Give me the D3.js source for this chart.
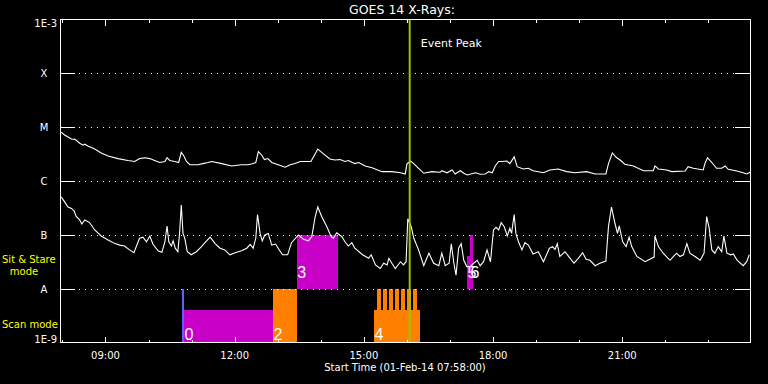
<!DOCTYPE html>
<html><head><meta charset="utf-8">
<script src="https://cdn.jsdelivr.net/npm/d3@7"></script>
<style>html,body{margin:0;padding:0;background:#000;}svg{display:block;}</style>
</head><body><svg id="c" width="768" height="384"></svg>
<script>
// ---------- data ----------
const titleText = "GOES 14 X-Rays:";
const xLabelText = "Start Time (01-Feb-14 07:58:00)";
const startHour = 7 + 58/60, endHour = 23 + 58/60;
const levelLabels = ["A","B","C","M","X"];
const levelValues = [1e-8,1e-7,1e-6,1e-5,1e-4];
const edgeLabels = ["1E-9","1E-3"];
const edgeValues = [1e-9,1e-3];
const timeTickLabels = ["09:00","12:00","15:00","18:00","21:00"];
const modeLabels = [["Sit & Stare","mode"],["Scan mode"]];
const peakHour = 16.064;
const peakLabel = "Event Peak";

// long channel (1-8 A), hours UT / W m^-2
const longT = [7.97,8.05,8.21,8.29,8.40,8.48,8.52,8.59,8.75,8.90,
 9.06,9.29,9.52,9.68,9.79,9.91,10.03,10.14,10.26,10.38,
 10.43,10.49,10.61,10.70,10.76,10.82,10.88,10.96,11.15,11.26,
 11.38,11.47,11.70,11.93,12.16,12.32,12.43,12.49,12.55,12.63,
 12.69,12.77,12.86,13.01,13.17,13.29,13.40,13.52,13.77,13.87,
 13.93,14.02,14.21,14.33,14.45,14.56,14.64,14.79,14.88,15.03,
 15.19,15.42,15.65,15.85,15.96,16.00,16.08,16.16,16.27,16.39,
 16.58,16.77,16.81,16.93,17.05,17.12,17.24,17.32,17.40,17.59,
 17.70,17.82,17.90,17.98,18.05,18.13,18.21,18.32,18.39,18.49,
 18.56,18.70,18.82,18.93,19.17,19.32,19.51,19.71,19.90,20.17,
 20.37,20.62,20.68,20.77,20.86,20.95,21.06,21.26,21.49,21.72,
 21.76,21.84,22.03,22.15,22.46,22.53,22.65,22.88,22.92,22.98,
 23.08,23.19,23.31,23.39,23.46,23.66,23.81,23.89,23.97];
const longF = [8.0e-6,7.1e-6,6.0e-6,5.9e-6,5.0e-6,4.6e-6,4.8e-6,4.45e-6,3.9e-6,3.3e-6,
 2.9e-6,2.6e-6,2.4e-6,2.3e-6,2.6e-6,2.7e-6,2.6e-6,2.4e-6,2.2e-6,2.3e-6,
 2.7e-6,2.4e-6,2.3e-6,2.2e-6,3.4e-6,2.9e-6,2.3e-6,2.0e-6,2.0e-6,2.1e-6,
 2.2e-6,2.3e-6,2.1e-6,1.9e-6,2.0e-6,2.0e-6,2.1e-6,2.2e-6,3.5e-6,3.0e-6,
 2.5e-6,2.6e-6,2.2e-6,2.0e-6,1.8e-6,2.0e-6,2.1e-6,2.3e-6,2.3e-6,3.2e-6,
 3.9e-6,3.4e-6,2.55e-6,2.45e-6,2.5e-6,2.3e-6,2.4e-6,2.1e-6,2.2e-6,1.9e-6,
 1.76e-6,1.49e-6,1.49e-6,1.42e-6,1.35e-6,2.06e-6,2.34e-6,2.1e-6,1.72e-6,1.39e-6,
 1.49e-6,1.45e-6,1.55e-6,1.42e-6,1.6e-6,1.35e-6,1.55e-6,1.39e-6,1.29e-6,1.42e-6,
 1.33e-6,1.35e-6,1.49e-6,1.42e-6,1.9e-6,2.3e-6,2.3e-6,2.34e-6,2.1e-6,2.8e-6,
 1.84e-6,1.67e-6,1.72e-6,1.55e-6,1.42e-6,1.6e-6,1.67e-6,1.49e-6,1.42e-6,1.49e-6,
 1.35e-6,1.35e-6,2.1e-6,3.3e-6,2.75e-6,2.45e-6,2.04e-6,1.9e-6,1.55e-6,1.55e-6,
 1.9e-6,1.67e-6,1.6e-6,1.49e-6,1.53e-6,1.84e-6,1.72e-6,1.6e-6,2.1e-6,2.7e-6,
 2.2e-6,1.72e-6,1.72e-6,1.9e-6,1.65e-6,1.53e-6,1.42e-6,1.35e-6,1.45e-6];

// short channel (0.5-4 A)
const shortT = [7.97,8.05,8.13,8.21,8.27,8.32,8.40,8.45,8.52,8.63,
 8.75,8.90,9.06,9.21,9.33,9.44,9.56,9.66,9.79,9.87,
 9.95,10.03,10.10,10.22,10.31,10.38,10.43,10.47,10.53,10.57,
 10.62,10.68,10.72,10.76,10.80,10.84,10.90,10.99,11.11,11.23,
 11.31,11.43,11.54,11.66,11.77,11.89,12.01,12.16,12.28,12.36,
 12.43,12.49,12.53,12.59,12.64,12.70,12.78,12.86,12.95,13.01,
 13.11,13.23,13.32,13.48,13.60,13.71,13.79,13.87,13.93,14.02,
 14.14,14.24,14.29,14.37,14.49,14.56,14.64,14.72,14.79,14.97,
 15.11,15.17,15.27,15.38,15.46,15.54,15.58,15.65,15.73,15.85,
 15.92,15.98,16.02,16.10,16.16,16.27,16.39,16.51,16.62,16.74,
 16.81,16.89,16.98,17.03,17.09,17.14,17.20,17.26,17.32,17.39,
 17.47,17.55,17.63,17.70,17.78,17.86,17.94,18.01,18.07,18.13,
 18.19,18.26,18.33,18.39,18.43,18.49,18.53,18.59,18.67,18.74,
 18.82,18.93,19.05,19.17,19.31,19.38,19.44,19.49,19.55,19.67,
 19.79,19.88,19.98,20.08,20.16,20.25,20.37,20.48,20.62,20.68,
 20.75,20.83,20.89,20.93,21.01,21.09,21.16,21.22,21.34,21.53,
 21.64,21.74,21.76,21.84,21.95,22.11,22.19,22.26,22.34,22.42,
 22.50,22.57,22.69,22.81,22.90,22.96,23.02,23.08,23.15,23.23,
 23.31,23.36,23.43,23.52,23.58,23.67,23.81,23.89,23.95];
const shortF = [5.1e-7,4.1e-7,3.3e-7,3.1e-7,2.8e-7,2.2e-7,1.9e-7,1.6e-7,1.9e-7,1.7e-7,
 1.24e-7,9.6e-8,8.1e-8,7.0e-8,6.5e-8,6.25e-8,5.3e-8,4.7e-8,8.7e-8,9.1e-8,
 7.5e-8,9.6e-8,6.8e-8,5.1e-8,4.8e-8,7.5e-8,1.47e-7,7.5e-8,6.25e-8,7.8e-8,
 5.7e-8,4.9e-8,1.07e-7,3.6e-7,1.07e-7,8.7e-8,4.9e-8,4.3e-8,4.9e-8,6.1e-8,
 7.2e-8,9.1e-8,7.0e-8,5.7e-8,5.3e-8,4.3e-8,4.7e-8,5.1e-8,5.7e-8,6.7e-8,
 5.7e-8,8.7e-8,2.4e-7,1.07e-7,7.8e-8,1.0e-7,1.07e-7,6.5e-8,6.8e-8,5.7e-8,
 4.3e-8,4.3e-8,7.2e-8,1.0e-7,8.3e-8,7.8e-8,9.3e-8,2.2e-7,3.3e-7,2.2e-7,
 1.42e-7,9.3e-8,8.7e-8,1.1e-7,9.3e-8,7.5e-8,6.25e-8,7.2e-8,5.7e-8,4.3e-8,
 3.7e-8,4.3e-8,2.8e-8,2.4e-8,3.0e-8,2.8e-8,3.7e-8,3.0e-8,2.4e-8,3.2e-8,
 2.8e-8,3.2e-8,2.0e-7,1.42e-7,8.7e-8,5.3e-8,2.7e-8,4.6e-8,3.0e-8,2.7e-8,
 4.6e-8,2.7e-8,3.0e-8,6.9e-8,3.0e-8,1.8e-8,5.7e-8,6.9e-8,3.4e-8,2.6e-8,
 2.6e-8,3.0e-8,3.4e-8,2.7e-8,3.2e-8,5.3e-8,3.2e-8,1.24e-7,1.39e-7,1.24e-7,
 1.69e-7,1.42e-7,9.6e-8,1.33e-7,1.07e-7,2.4e-7,1.07e-7,7.5e-8,5.3e-8,7.2e-8,
 6.5e-8,4.45e-8,4.9e-8,3.2e-8,5.7e-8,6.1e-8,5.4e-8,6.9e-8,4.0e-8,4.9e-8,
 3.7e-8,3.0e-8,3.7e-8,4.7e-8,3.55e-8,3.4e-8,2.7e-8,3.0e-8,3.3e-8,1.42e-7,
 3.3e-7,1.65e-7,1.07e-7,1.47e-7,7.5e-8,6.1e-8,9.1e-8,6.1e-8,4.0e-8,3.2e-8,
 3.55e-8,3.9e-8,9.6e-8,6.1e-8,4.6e-8,3.4e-8,4.0e-8,4.6e-8,4.0e-8,4.3e-8,
 6.9e-8,4.6e-8,4.0e-8,3.4e-8,4.6e-8,2.2e-7,1.33e-7,5.3e-8,4.6e-8,6.1e-8,
 4.9e-8,9.6e-8,4.6e-8,4.3e-8,4.45e-8,3.4e-8,2.7e-8,3.2e-8,4.3e-8];

// observation blocks: start/end hours, flux band low/high, kind, label
const obsStart = [10.777,10.823,12.890,13.440,15.236,15.312,15.451,15.591,15.730,15.869,16.009,16.148,17.395,17.465];
const obsEnd   = [10.823,12.890,13.440,14.393,16.304,15.391,15.530,15.670,15.809,15.948,16.088,16.227,17.511,17.535];
const obsLow   = [1e-9,1e-9,1e-9,1e-8,1e-9,1e-9,1e-9,1e-9,1e-9,1e-9,1e-9,1e-9,1e-8,1e-8];
const obsHigh  = [1e-8,4e-9,1e-8,1e-7,4e-9,1e-8,1e-8,1e-8,1e-8,1e-8,1e-8,1e-8,4e-8,1e-7];
const obsKind  = ["b","m","o","m","o","o","o","o","o","o","o","o","m","m"];
const obsLabel = ["","0","2","3","4","","","","","","","","5","6"];

// ---------- drawing ----------
const svg = d3.select("#c");
const day = Date.UTC(2014,1,1);
const toDate = h => new Date(day + h*3600e3);
const x = d3.scaleUtc().domain([toDate(startHour), toDate(endHour)]).range([61, 750]);
const y = d3.scaleLog().domain([1e-9, 1e-3]).range([343, 19]);
const kindColor = d3.scaleOrdinal().domain(["b","m","o"]).range(["#6060ff","#c800c8","#ff8000"]);
const font = "DejaVu Sans, sans-serif";

svg.append("rect").attr("width",768).attr("height",384).attr("fill","#000");

svg.append("defs").append("clipPath").attr("id","pc").append("rect")
  .attr("x",61).attr("y",19).attr("width",689).attr("height",324);

// observation blocks
const obs = obsStart.map((s,i)=>({s, e:obsEnd[i], lo:obsLow[i], hi:obsHigh[i], k:obsKind[i], lab:obsLabel[i]}));
svg.append("g").attr("shape-rendering","crispEdges").selectAll("rect").data(obs).join("rect")
  .attr("x", d=>x(toDate(d.s)))
  .attr("width", d=>Math.max(1, x(toDate(d.e))-x(toDate(d.s))))
  .attr("y", d=>y(d.hi))
  .attr("height", d=>y(d.lo)-y(d.hi))
  .attr("fill", d=>kindColor(d.k));

// grid (dotted) + level ticks
const g = svg.append("g").attr("shape-rendering","crispEdges").attr("stroke","#fff");
levelValues.forEach(v=>{
  const yy = Math.round(y(v)) + 0.5;
  g.append("line").attr("x1",79).attr("x2",735).attr("y1",yy).attr("y2",yy)
    .attr("stroke-dasharray","1 5");
  g.append("line").attr("x1",61).attr("x2",75).attr("y1",yy).attr("y2",yy);
  g.append("line").attr("x1",735).attr("x2",750).attr("y1",yy).attr("y2",yy);
});

// curves
const line = d3.line().x(d=>x(toDate(d[0]))).y(d=>y(d[1]));
const curves = svg.append("g").attr("clip-path","url(#pc)");
curves.append("path").datum(longT.map((t,i)=>[t,longF[i]]))
  .attr("d",line).attr("fill","none").attr("stroke","#fff").attr("stroke-width",1.1);
curves.append("path").datum(shortT.map((t,i)=>[t,shortF[i]]))
  .attr("d",line).attr("fill","none").attr("stroke","#fff").attr("stroke-width",1.1);

// block labels
svg.append("g").selectAll("text").data(obs.filter(d=>d.lab)).join("text")
  .attr("x", d=>x(toDate(d.s))+0.5)
  .attr("y", d=> d.lo < 5e-9 ? y(d.lo)-3 : y(d.lo)-11)
  .attr("fill","#fff").attr("font-family","Liberation Sans, sans-serif").attr("font-size",16)
  .text(d=>d.lab);

// event peak
const px = x(toDate(peakHour));
svg.append("line").attr("x1",px).attr("x2",px).attr("y1",19).attr("y2",343)
  .attr("stroke","#96c800").attr("stroke-width",2);
svg.append("text").attr("x",px+11).attr("y",47).attr("fill","#fff")
  .attr("font-family",font).attr("font-size",11).text(peakLabel);

// frame
const fr = svg.append("g").attr("shape-rendering","crispEdges").attr("stroke","#fff").attr("fill","none");
fr.append("rect").attr("x",60.5).attr("y",19.5).attr("width",690).attr("height",323);

// time ticks
const hours = d3.utcHour.range(toDate(startHour), toDate(endHour));
const labelSet = new Set(timeTickLabels);
const fmt = d3.utcFormat("%H:%M");
hours.forEach(h=>{
  const xx = Math.round(x(h)) + 0.5;
  const major = labelSet.has(fmt(h));
  const len = major ? 6 : 3;
  fr.append("line").attr("x1",xx).attr("x2",xx).attr("y1",343).attr("y2",343-len);
  fr.append("line").attr("x1",xx).attr("x2",xx).attr("y1",20).attr("y2",20+len);
});
svg.append("g").selectAll("text").data(timeTickLabels).join("text")
  .attr("x", d=>{const p=d.split(":"); return x(toDate(+p[0] + p[1]/60));})
  .attr("y",359).attr("text-anchor","middle").attr("fill","#fff")
  .attr("font-family",font).attr("font-size",10).text(d=>d);

// y labels
levelValues.forEach((v,i)=>{
  svg.append("text").attr("x",44).attr("y",y(v)+4).attr("text-anchor","middle")
    .attr("fill","#fff").attr("font-family",font).attr("font-size",10).text(levelLabels[i]);
});
svg.append("text").attr("x",57).attr("y",y(edgeValues[0])).attr("text-anchor","end")
  .attr("fill","#fff").attr("font-family",font).attr("font-size",10).text(edgeLabels[0]);
svg.append("text").attr("x",57).attr("y",y(edgeValues[1])+7.5).attr("text-anchor","end")
  .attr("fill","#fff").attr("font-family",font).attr("font-size",10).text(edgeLabels[1]);

// mode labels
svg.append("text").attr("x",2).attr("y",263).attr("fill","#ffff00").attr("font-family",font)
  .attr("font-size",10).text(modeLabels[0][0]);
svg.append("text").attr("x",24).attr("y",275).attr("text-anchor","middle").attr("fill","#ffff00")
  .attr("font-family",font).attr("font-size",10).text(modeLabels[0][1]);
svg.append("text").attr("x",2).attr("y",328).attr("fill","#ffff00").attr("font-family",font)
  .attr("font-size",10).text(modeLabels[1][0]);

// title & x label
svg.append("text").attr("x",402).attr("y",13.5).attr("text-anchor","middle").attr("fill","#fff")
  .attr("font-family",font).attr("font-size",12.5).text(titleText);
svg.append("text").attr("x",405).attr("y",371).attr("text-anchor","middle").attr("fill","#fff")
  .attr("font-family",font).attr("font-size",10).text(xLabelText);
</script></body></html>
